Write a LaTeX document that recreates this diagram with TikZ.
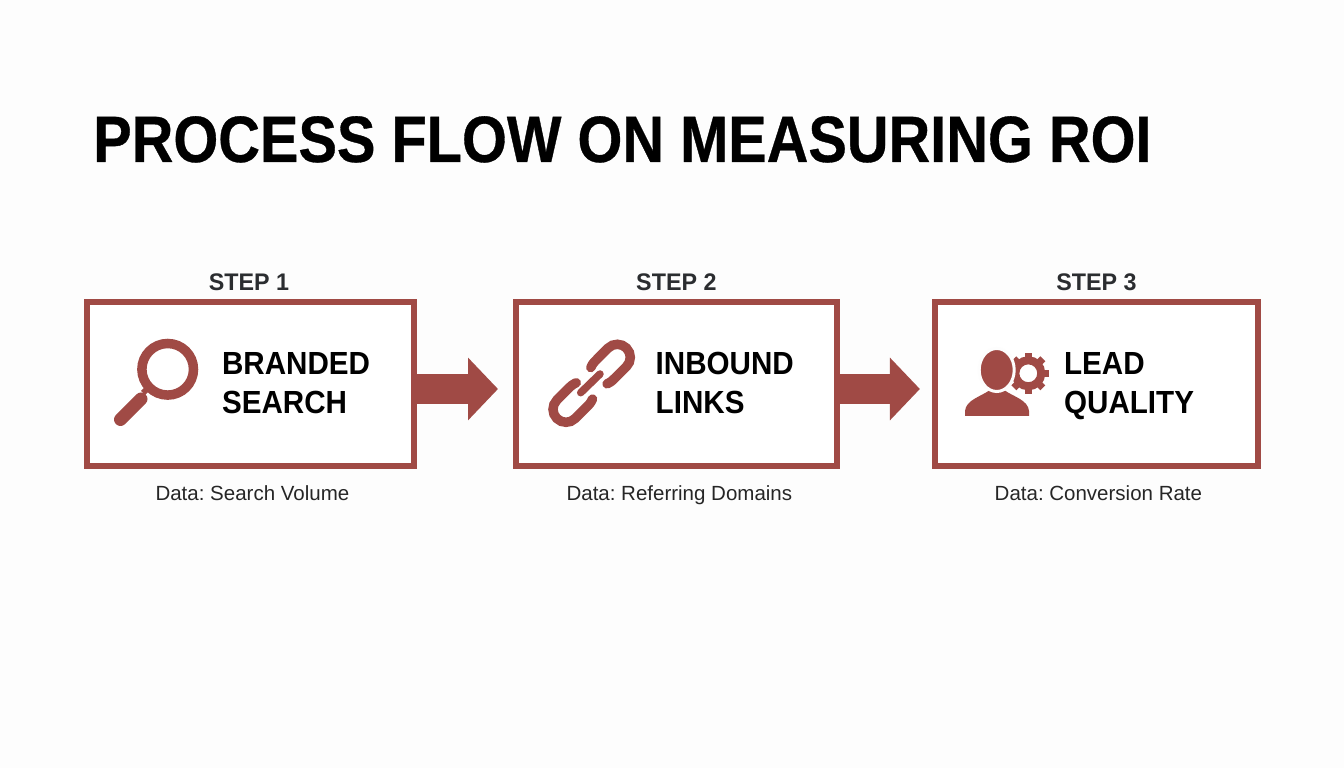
\documentclass[tikz,border=0pt]{standalone}
\usepackage{fontspec}
\setmainfont{Liberation Sans}
\newfontfamily\titlefont[FakeStretch=0.88, FakeBold=0.5]{Liberation Sans Bold}
\newfontfamily\stepfont[FakeStretch=0.97]{Liberation Sans Bold}
\newfontfamily\boxfont[FakeStretch=0.925]{Liberation Sans Bold}
\newfontfamily\datafont{Liberation Sans}
\usetikzlibrary{arrows.meta, positioning}
\definecolor{brick}{HTML}{A04A45}
\definecolor{paper}{HTML}{FDFDFD}
\definecolor{stepgray}{HTML}{2B2D30}
\frenchspacing

\begin{document}
\begin{tikzpicture}[x=1pt, y=1pt,
    every node/.style={inner sep=0pt},
    box/.style={draw=brick, line width=6pt, fill=white, minimum height=164pt},
    steptitle/.style={font=\stepfont\fontsize{24}{26}\selectfont, text=stepgray},
    boxtext/.style={font=\boxfont\fontsize{32}{39}\selectfont, align=left, anchor=base west},
    datatext/.style={font=\datafont\fontsize{20.5}{23}\selectfont, text=black!85},
    flow/.style={draw=brick, line width=30pt, -{Triangle[length=30pt, width=61pt]}},
    icon/.style={draw=brick, line cap=round}]

% Page background
\fill[paper] (0,0) rectangle (1344,768);

% Title
\node[anchor=base west, font=\titlefont\fontsize{65.6}{70}\selectfont] (title) at (93,606) {PROCESS FLOW ON MEASURING ROI};

% Step boxes - first one at a coordinate, the others relative to it
\node[box, minimum width=327pt] (search) at (250.4,384) {};
\node[box, minimum width=321.7pt, right=95.6pt of search] (links) {};
\node[box, minimum width=323pt, right=91.7pt of links] (quality) {};

% Step labels
\node[steptitle, above=8pt of search, xshift=-1.5pt] (step1) {STEP 1};
\node[steptitle, above=8pt of links] (step2) {STEP 2};
\node[steptitle, above=8pt of quality] (step3) {STEP 3};

% Box texts
\node[boxtext] (searchtext) at ([xshift=138pt, yshift=-30pt]search.west) {BRANDED\\SEARCH};
\node[boxtext] (linkstext) at ([xshift=143pt, yshift=-30pt]links.west) {INBOUND\\LINKS};
\node[boxtext] (qualitytext) at ([xshift=132pt, yshift=-30pt]quality.west) {LEAD\\QUALITY};

% Data captions
\node[datatext, below=16pt of search, xshift=2pt] (data1) {Data: Search Volume};
\node[datatext, below=16pt of links, xshift=3pt] (data2) {Data: Referring Domains};
\node[datatext, below=16pt of quality, xshift=2pt] (data3) {Data: Conversion Rate};

% Arrows between the boxes
\draw[flow, shorten >=14.5pt] ([yshift=-5pt]search.east) -- ([yshift=-5pt]links.west);
\draw[flow, shorten >=12pt] ([yshift=-5pt]links.east) -- ([yshift=-5pt]quality.west);

% Magnifier icon
\draw[icon, line width=9.5pt] (167.7,398.7) circle (25.8);
\draw[icon, line width=6pt, line cap=butt] (152,384) -- (143,375);
\draw[icon, line width=13pt] (120.5,348.5) -- (141,369);

% Chain icon - two open links and a bar
\begin{scope}[shift={(617.3,410.7)}, rotate=45]
    \draw[icon, line width=9.5pt] (-26,-11.5) .. controls (-22,-13) and (-20,-13) .. (-16,-13) -- (0,-13) arc (-90:90:13) -- (-16,13) .. controls (-20,13) and (-22,13) .. (-26,11.5);
\end{scope}
\begin{scope}[shift={(566,358.7)}, rotate=225]
    \draw[icon, line width=9.5pt] (-26,-11.5) .. controls (-22,-13) and (-20,-13) .. (-16,-13) -- (0,-13) arc (-90:90:13) -- (-16,13) .. controls (-20,13) and (-22,13) .. (-26,11.5);
\end{scope}
\draw[icon, line width=7.5pt] (580.7,375.3) -- (600,394);

% Person with gear icon
\draw[brick, line width=8pt] (1028.3,394.7) circle (13);
\foreach \a in {0,45,...,315} {
    \draw[brick, line width=7pt] (1028.3,394.7) ++(\a:15) -- ++(\a:5.5);
}
\fill[brick] (965,352) -- (1029,352) -- (1029,357)
    .. controls (1028,368) and (1014,371) .. (1004,378)
    -- (990,378)
    .. controls (980,371) and (966,368) .. (965,357) -- cycle;
\fill[brick, draw=paper, line width=3pt] (996.7,398) ellipse (17.5 and 21.5);
\end{tikzpicture}
\end{document}
